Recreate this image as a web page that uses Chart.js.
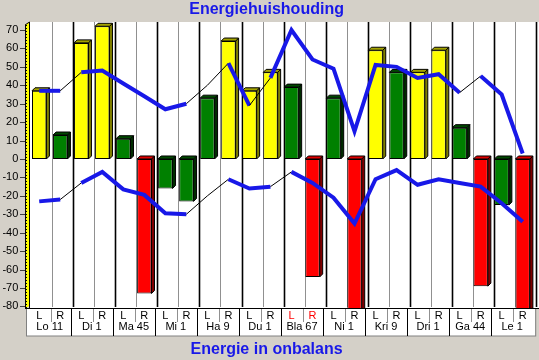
<!DOCTYPE html>
<html><head><meta charset="utf-8">
<script src="https://cdn.jsdelivr.net/npm/chart.js@4.4.1/dist/chart.umd.min.js"></script>
<style>html,body{margin:0;padding:0;background:#d4d0c8;}canvas{display:block;}</style>
</head><body>
<canvas id="c" width="539" height="360"></canvas>
<script>
// ---- data ----
const slotLabels = ['L','R','L','R','L','R','L','R','L','R','L','R','L','R','L','R','L','R','L','R','L','R','L','R'];
const groupLabels = ['Lo 11','Di 1','Ma 45','Mi 1','Ha 9','Du 1','Bla 67','Ni 1','Kri 9','Dri 1','Ga 44','Le 1'];
const barValues = [37, 13, 63, 72, 11, -73, -16, -23, 33, 64, 37, 47, 39, -64, 33, -85, 59, 47, 47, 59, 17, -69, -25, -85];
const barKinds  = ['Y','G','Y','Y','G','R','G','G','G','Y','Y','Y','G','R','G','R','Y','G','Y','Y','G','R','G','R'];
const upperLine = [37, 37, 47, 48, 41, 34, 27, 30, 40, 52, 29, 44, 70, 54, 49, 15, 51, 50, 44, 46, 36, 45, 35, 3];
const lowerLine = [-23, -22, -13, -7, -16.5, -19.5, -29.5, -30, -20, -11, -16, -15, -7, -13, -21, -35, -11, -6, -14, -11, -13, -15, -24, -34];
const upperThinSegments = [1, 7, 8, 10, 20];
const lowerThinSegments = [1, 7, 8, 11];
const yTickValues = [-80, -70, -60, -50, -40, -30, -20, -10, 0, 10, 20, 30, 40, 50, 60, 70];
const redLabelSlots = [12, 13];

const kindColors = {
  Y: {front: '#ffff00', side: '#808000', top: '#a4a400'},
  G: {front: '#008000', side: '#002c00', top: '#004800'},
  R: {front: '#ff0000', side: '#800000', top: '#e00000'}
};
const BLUE = '#1818e8';
const DEPTH = 3;
const FONT = 'Liberation Sans';

const deco = {
  id: 'deco',
  beforeDraw(chart) {
    const {ctx, chartArea: a} = chart;
    const ys = chart.scales.y;
    const n = slotLabels.length;
    const slot = (a.right - a.left) / n;
    const frontX = a.left - 3.7, backX = a.left + 0.8;
    const backTop = a.top - DEPTH;
    ctx.save();
    ctx.fillStyle = '#d4d0c8';
    ctx.fillRect(0, 0, chart.width, chart.height);
    // back wall
    ctx.fillStyle = '#ffffff';
    ctx.fillRect(backX, backTop, chart.width - backX, a.bottom - backTop);
    // grid lines on back wall
    for (let k = 1; k <= n; k++) {
      const x = Math.round(a.left + k * slot + 2.6) + 0.5;
      ctx.strokeStyle = (k % 2 === 0) ? '#000000' : '#909090';
      ctx.lineWidth = (k % 2 === 0) ? 1.6 : 1;
      ctx.beginPath(); ctx.moveTo(x, backTop); ctx.lineTo(x, a.bottom - 1); ctx.stroke();
    }
    // left wall
    ctx.fillStyle = '#ffff00';
    ctx.beginPath();
    ctx.moveTo(frontX, a.top); ctx.lineTo(backX, backTop); ctx.lineTo(backX, a.bottom - 2); ctx.lineTo(frontX, a.bottom);
    ctx.closePath(); ctx.fill();
    ctx.strokeStyle = '#000'; ctx.lineWidth = 1;
    ctx.beginPath(); ctx.moveTo(backX, backTop); ctx.lineTo(backX, a.bottom); ctx.stroke();
    ctx.beginPath(); ctx.moveTo(frontX + 0.5, a.top); ctx.lineTo(frontX + 0.5, a.bottom); ctx.stroke();
    ctx.beginPath(); ctx.moveTo(frontX, a.top); ctx.lineTo(backX, backTop); ctx.stroke();
    // minor dotted ticks
    ctx.save();
    ctx.setLineDash([1, 2]);
    ctx.strokeStyle = '#000';
    ctx.beginPath(); ctx.moveTo(frontX + 1.5, a.top); ctx.lineTo(frontX + 1.5, a.bottom); ctx.stroke();
    ctx.restore();
    // major tick marks
    ctx.strokeStyle = '#404040';
    yTickValues.forEach(v => {
      const y = Math.round(ys.getPixelForValue(v)) + 0.5;
      ctx.beginPath(); ctx.moveTo(frontX - 5, y); ctx.lineTo(frontX, y); ctx.stroke();
    });
    // label box
    const boxTop = a.bottom + 1, boxBottom = a.bottom + 28;
    ctx.fillStyle = '#ffffff';
    ctx.fillRect(frontX + 1, boxTop, a.right + 2 - frontX - 1, boxBottom - boxTop);
    ctx.strokeStyle = '#808080';
    ctx.strokeRect(frontX + 1.5, boxTop - 0.5, a.right + 2 - frontX - 1, boxBottom - boxTop + 0.5);
    ctx.strokeStyle = '#000';
    ctx.beginPath(); ctx.moveTo(frontX, a.bottom + 0.5); ctx.lineTo(chart.width, a.bottom + 0.5); ctx.stroke();
    for (let k = 1; k < n; k++) {
      if (k % 2 === 0) {
        const x = Math.round(a.left + k * slot) + 0.5;
        ctx.strokeStyle = '#000';
        ctx.beginPath(); ctx.moveTo(x, boxTop); ctx.lineTo(x, boxBottom); ctx.stroke();
      } else {
        const x = Math.round(a.left + k * slot + 1) + 0.5;
        ctx.strokeStyle = '#909090';
        ctx.beginPath(); ctx.moveTo(x, boxTop); ctx.lineTo(x, boxTop + 13); ctx.stroke();
      }
    }
    ctx.restore();
  },
  afterDatasetDraw(chart, args) {
    if (args.meta.type !== 'bar') return;
    const {ctx, chartArea: a} = chart;
    ctx.save();
    ctx.beginPath();
    ctx.rect(a.left, 0, chart.width - a.left, a.bottom);
    ctx.clip();
    ctx.lineWidth = 1;
    ctx.strokeStyle = '#000';
    args.meta.data.forEach((el, i) => {
      const p = el.getProps(['x', 'y', 'base', 'width'], true);
      const c = kindColors[barKinds[i]];
      const l = p.x - p.width / 2, r = p.x + p.width / 2;
      const t = Math.min(p.y, p.base), b = Math.max(p.y, p.base);
      const d = DEPTH;
      ctx.fillStyle = c.side;
      ctx.beginPath();
      ctx.moveTo(r, t); ctx.lineTo(r + d, t - d); ctx.lineTo(r + d, b - d); ctx.lineTo(r, b); ctx.closePath();
      ctx.fill(); ctx.stroke();
      ctx.fillStyle = c.top;
      ctx.beginPath();
      ctx.moveTo(l, t); ctx.lineTo(l + d, t - d); ctx.lineTo(r + d, t - d); ctx.lineTo(r, t); ctx.closePath();
      ctx.fill(); ctx.stroke();
    });
    ctx.restore();
  }
};

function segStyle(thin) {
  return {
    borderColor: c => thin.includes(c.p0DataIndex) ? '#000000' : BLUE,
    borderWidth: c => thin.includes(c.p0DataIndex) ? 1 : 4
  };
}

new Chart(document.getElementById('c'), {
  data: {
    labels: slotLabels,
    datasets: [
      {type: 'line', data: upperLine, order: 0, borderColor: BLUE, borderWidth: 4, pointRadius: 0,
       borderJoinStyle: 'miter', tension: 0, segment: segStyle(upperThinSegments), clip: false},
      {type: 'line', data: lowerLine, order: 0, borderColor: BLUE, borderWidth: 4, pointRadius: 0,
       borderJoinStyle: 'miter', tension: 0, segment: segStyle(lowerThinSegments), clip: false},
      {type: 'bar', data: barValues, order: 1,
       backgroundColor: barKinds.map(k => kindColors[k].front),
       borderColor: '#000', borderWidth: 1, borderSkipped: false,
       barPercentage: 0.685, categoryPercentage: 1}
    ]
  },
  options: {
    responsive: false,
    devicePixelRatio: 1,
    animation: false,
    events: [],
    layout: {padding: {left: 0, right: 5.8, top: 0, bottom: 0}},
    plugins: {
      legend: {display: false},
      tooltip: {enabled: false},
      title: {display: true, text: 'Energiehuishouding', color: BLUE,
              font: {family: FONT, size: 16, weight: 'bold'}, padding: {top: 0, bottom: 5.8}},
      subtitle: {display: true, position: 'bottom', text: 'Energie in onbalans', color: BLUE,
              font: {family: FONT, size: 16, weight: 'bold'}, padding: {top: 4.4, bottom: 0.4}}
    },
    scales: {
      x: {type: 'category', position: 'bottom', weight: 0, offset: true,
          grid: {display: false, drawTicks: false}, border: {display: false},
          ticks: {autoSkip: false, maxRotation: 0, padding: 1,
                  color: c => redLabelSlots.includes(c.index) ? '#ff0000' : '#000000',
                  font: {family: FONT, size: 11}},
          afterFit: s => { s.height = 12; }},
      x2: {type: 'category', position: 'bottom', weight: 1, offset: true, labels: groupLabels,
          grid: {display: false, drawTicks: false}, border: {display: false},
          ticks: {autoSkip: false, maxRotation: 0, padding: 0, color: '#000000',
                  font: {family: FONT, size: 11}},
          afterFit: s => { s.height = 16; }},
      y: {type: 'linear', min: -80.85, max: 72.7,
          grid: {display: false, drawTicks: false}, border: {display: false},
          ticks: {padding: 10.4, color: '#000000', font: {family: FONT, size: 11}},
          afterBuildTicks: s => { s.ticks = yTickValues.map(v => ({value: v})); },
          afterFit: s => { s.width = 28.7; }}
    }
  },
  plugins: [deco]
});
</script>
</body></html>
